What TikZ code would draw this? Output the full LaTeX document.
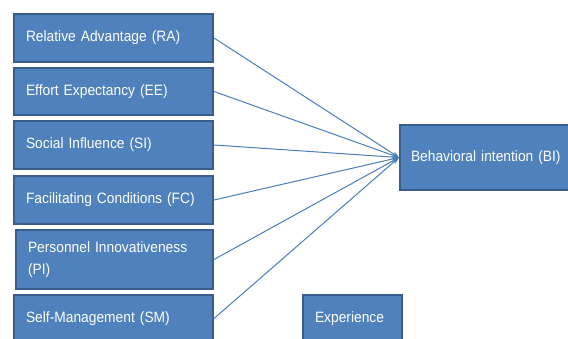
\documentclass[tikz,border=0pt]{standalone}
\usepackage{fontspec}
\setmainfont{Liberation Sans}[FakeStretch=0.92, WordSpace=0.8]
\usetikzlibrary{arrows.meta}
\definecolor{boxfill}{HTML}{4F81BD}
\definecolor{boxline}{HTML}{385D8A}
\definecolor{linkline}{HTML}{4A7EBB}
\tikzset{
  factor/.style={draw=boxline, line width=2pt, fill=boxfill, text=white,
    anchor=north west, inner xsep=12pt, inner ysep=0pt, align=left,
    font=\fontsize{15}{22}\selectfont},
  link/.style={draw=linkline, line width=1pt, -{Stealth[length=7pt,width=5pt]}}
}
\begin{document}
\begin{tikzpicture}[x=1pt,y=1pt]
\useasboundingbox (0,0) rectangle (568,-339);

% determinant boxes on the left
\node[factor, text width=175pt, minimum height=48pt] (ra) at (13,-13) {Relative Advantage (RA)};
\node[factor, text width=175pt, minimum height=47pt] (ee) at (13,-67) {Effort Expectancy (EE)};
\node[factor, text width=175pt, minimum height=48pt] (si) at (13,-120) {Social Influence (SI)};
\node[factor, text width=175pt, minimum height=48pt] (fc) at (13,-175) {Facilitating Conditions (FC)};
\node[factor, text width=173pt, minimum height=59pt] (pi) at (15,-229) {Personnel Innovativeness\\(PI)};
\node[factor, text width=175pt, minimum height=47pt] (sm) at (13,-294) {Self-Management (SM)};

% outcome and moderator
\node[factor, inner xsep=11pt, text width=180pt, minimum width=202pt, minimum height=65pt] (bi) at (399,-124) {Behavioral intention (BI)};
\node[factor, text width=75pt, minimum height=47pt] (ex) at (302,-294) {Experience};

% paths into behavioral intention
\foreach \n in {ra,ee,si,fc,pi,sm}
  \draw[link] (\n.east) -- (bi.west);
\end{tikzpicture}
\end{document}
